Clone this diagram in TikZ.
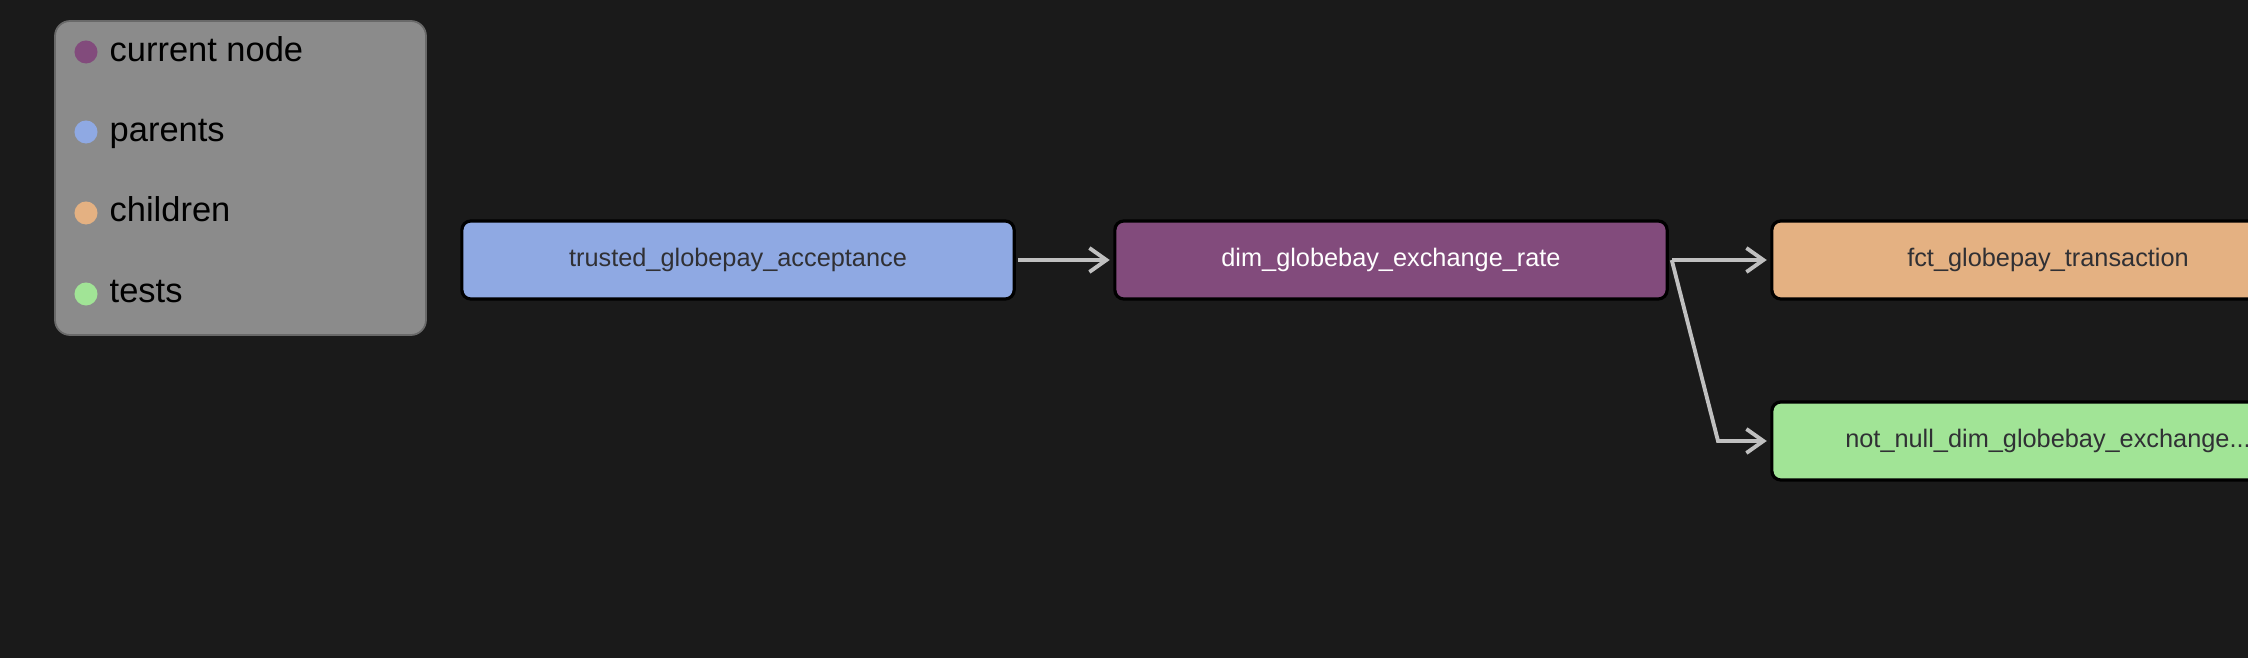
\documentclass[tikz,border=0pt]{standalone}
\usepackage{fontspec}
\setmainfont{Liberation Sans}
\usetikzlibrary{arrows.meta}
\definecolor{canvasgray}{RGB}{26,26,26}
\definecolor{legendgray}{RGB}{139,139,139}
\definecolor{legendedge}{RGB}{105,105,105}
\definecolor{currentpurple}{RGB}{130,75,124}
\definecolor{parentblue}{RGB}{143,169,227}
\definecolor{childorange}{RGB}{228,177,130}
\definecolor{testgreen}{RGB}{161,228,150}
\definecolor{labelgray}{RGB}{48,48,52}
\definecolor{edgegray}{RGB}{192,192,192}
\tikzset{
  flow/.style={-{Straight Barb[length=1.7mm,width=2.4mm,line width=1.1pt]},draw=edgegray,line width=1.1pt,shorten >=1pt},
  modelbox/.style={
    draw=black,
    rectangle,
    rounded corners=0.09cm,
    line width=0.9pt,
    minimum width=5.52cm,
    minimum height=0.78cm,
    inner sep=0pt,
    text=labelgray,
    font=\fontsize{7.2pt}{9pt}\selectfont
  },
  legenddot/.style={circle,minimum size=0.23cm,inner sep=0pt},
  legendlabel/.style={anchor=base west,inner sep=0pt,font=\fontsize{9.8pt}{12pt}\selectfont}
}

\begin{document}
\begin{tikzpicture}[x=0.01cm,y=-0.01cm]
  \useasboundingbox (0,0) rectangle (2248,658);
  \clip (0,0) rectangle (2248,658);
  \fill[canvasgray] (0,0) rectangle (2248,658);

  % Legend
  \filldraw[fill=legendgray,draw=legendedge,line width=0.5pt,rounded corners=0.15cm]
    (55,21) rectangle (426,335);
  \node[legenddot,fill=currentpurple] (dotcurrent) at (86,52) {};
  \node[legenddot,fill=parentblue] (dotparents) at (86,132) {};
  \node[legenddot,fill=childorange] (dotchildren) at (86,213) {};
  \node[legenddot,fill=testgreen] (dottests) at (86,294) {};
  \node[legendlabel] (keycurrent) at (109,62) {current node};
  \node[legendlabel] (keyparents) at (109,142) {parents};
  \node[legendlabel] (keychildren) at (109,222) {children};
  \node[legendlabel] (keytests) at (109,303) {tests};

  % Lineage nodes
  \node[modelbox,fill=parentblue] (trusted) at (738,260) {trusted\_globepay\_acceptance};
  \node[modelbox,fill=currentpurple,text=white] (dimrate) at (1391,260) {dim\_globebay\_exchange\_rate};
  \node[modelbox,fill=childorange] (fcttxn) at (2048,260) {fct\_globepay\_transaction};
  \node[modelbox,fill=testgreen] (notnull) at (2048,441) {not\_null\_dim\_globebay\_exchange...};

  % Edges
  \coordinate (testbend) at (1718,441);
  \draw[flow] (trusted.east) ++(2,0) -- (dimrate.west);
  \draw[flow] (dimrate.east) ++(3,0) -- (fcttxn.west);
  \draw[flow,line join=miter] (dimrate.east) ++(3,0) -- (testbend) -- (notnull.west);
\end{tikzpicture}
\end{document}
